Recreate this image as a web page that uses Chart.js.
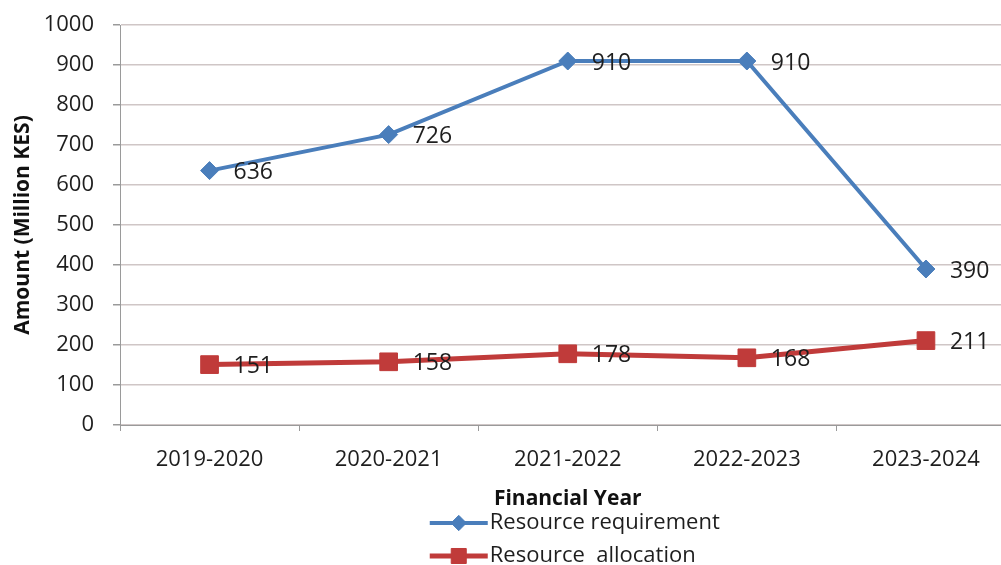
<!DOCTYPE html>
<html>
<head>
<meta charset="utf-8">
<script src="https://cdn.jsdelivr.net/npm/chart.js@4/dist/chart.umd.min.js"></script>
<style>
  html, body { margin: 0; padding: 0; background: #fff; overflow: hidden; }
  #wrap { position: relative; width: 1029px; height: 565px; }
</style>
</head>
<body>
<div id="wrap"><canvas id="c"></canvas></div>
<script>
const categories = ['2019-2020', '2020-2021', '2021-2022', '2022-2023', '2023-2024'];
const requirement = [636, 726, 910, 910, 390];
const allocation = [151, 158, 178, 168, 211];
const seriesNames = ['Resource requirement', 'Resource  allocation'];
const yTitle = 'Amount (Million KES)';
const xTitle = 'Financial Year';

const BLUE = '#4a7ebb';
const RED = '#c03b3a';
const FONT = "'Open Sans', 'DejaVu Sans', sans-serif";

const dataLabels = {
  id: 'dataLabels',
  afterDatasetsDraw(chart) {
    const ctx = chart.ctx;
    ctx.save();
    ctx.font = '23px ' + FONT;
    ctx.fillStyle = '#1e1e1e';
    ctx.textAlign = 'left';
    ctx.textBaseline = 'middle';
    chart.data.datasets.forEach((ds, i) => {
      const meta = chart.getDatasetMeta(i);
      meta.data.forEach((pt, j) => {
        ctx.fillText(String(ds.data[j]), pt.x + 24, pt.y + 2);
      });
    });
    ctx.restore();
  }
};

const stackedLegend = {
  id: 'stackedLegend',
  afterDraw(chart) {
    const ctx = chart.ctx;
    const area = chart.chartArea;
    const cx = (area.left + area.right) / 2;
    const x0 = cx - 138;
    const rows = [chart.height - 42, chart.height - 9];
    ctx.save();
    chart.data.datasets.forEach((ds, i) => {
      const y = rows[i];
      ctx.strokeStyle = ds.borderColor;
      ctx.lineWidth = ds.borderWidth;
      ctx.beginPath();
      ctx.moveTo(x0, y);
      ctx.lineTo(x0 + 58, y);
      ctx.stroke();
      ctx.fillStyle = ds.backgroundColor;
      ctx.strokeStyle = ds.borderColor;
      ctx.lineWidth = 1;
      Chart.helpers.drawPoint(ctx, {
        pointStyle: ds.pointStyle,
        radius: ds.pointRadius * 0.85,
        borderWidth: 1
      }, x0 + 29, y);
      ctx.fillStyle = '#1e1e1e';
      ctx.font = '22px ' + FONT;
      ctx.textAlign = 'left';
      ctx.textBaseline = 'middle';
      ctx.fillText(ds.label, x0 + 60, y);
    });
    ctx.restore();
  }
};

new Chart(document.getElementById('c'), {
  type: 'line',
  data: {
    labels: categories,
    datasets: [
      {
        label: seriesNames[0],
        data: requirement,
        borderColor: BLUE,
        backgroundColor: BLUE,
        borderWidth: 4,
        pointStyle: 'rectRot',
        pointRadius: 9,
        pointHoverRadius: 9,
        pointBorderWidth: 1,
        tension: 0
      },
      {
        label: seriesNames[1],
        data: allocation,
        borderColor: RED,
        backgroundColor: RED,
        borderWidth: 5,
        pointStyle: 'rect',
        pointRadius: 12.5,
        pointHoverRadius: 12.5,
        pointBorderWidth: 1,
        tension: 0
      }
    ]
  },
  options: {
    responsive: true,
    maintainAspectRatio: false,
    animation: false,
    events: [],
    layout: { padding: { top: 25, right: 5, bottom: 53, left: 0 } },
    plugins: {
      legend: { display: false },
      tooltip: { enabled: false }
    },
    scales: {
      x: {
        type: 'category',
        offset: true,
        grid: {
          offset: true,
          drawOnChartArea: false,
          drawTicks: true,
          tickLength: 6,
          color: '#9a9a9a'
        },
        border: { color: '#9a9a9a', width: 1 },
        ticks: {
          color: '#1e1e1e',
          padding: 16,
          maxRotation: 0,
          font: { family: FONT, size: 22 }
        },
        title: {
          display: true,
          text: xTitle,
          color: '#111',
          padding: { top: 0, bottom: 0 },
          font: { family: FONT, size: 21, weight: 'bold' }
        },
        afterFit(scale) {
          scale.height = 87;
          scale.paddingLeft = 0;
          scale.paddingRight = 0;
        }
      },
      y: {
        min: 0,
        max: 1000,
        ticks: {
          stepSize: 100,
          color: '#1e1e1e',
          padding: 19,
          font: { family: FONT, size: 22 },
          callback: (v) => String(v)
        },
        grid: {
          color: '#cfc6c6',
          lineWidth: 1.5,
          tickLength: 7,
          tickColor: '#9a9a9a'
        },
        border: { color: '#9a9a9a', width: 1 },
        title: {
          display: true,
          text: yTitle,
          color: '#111',
          padding: { top: 10, bottom: 0 },
          font: { family: FONT, size: 21, weight: 'bold' }
        },
        afterFit(scale) {
          scale.width = 120;
          scale.paddingTop = 0;
          scale.paddingBottom = 0;
        }
      }
    }
  },
  plugins: [dataLabels, stackedLegend]
});
</script>
